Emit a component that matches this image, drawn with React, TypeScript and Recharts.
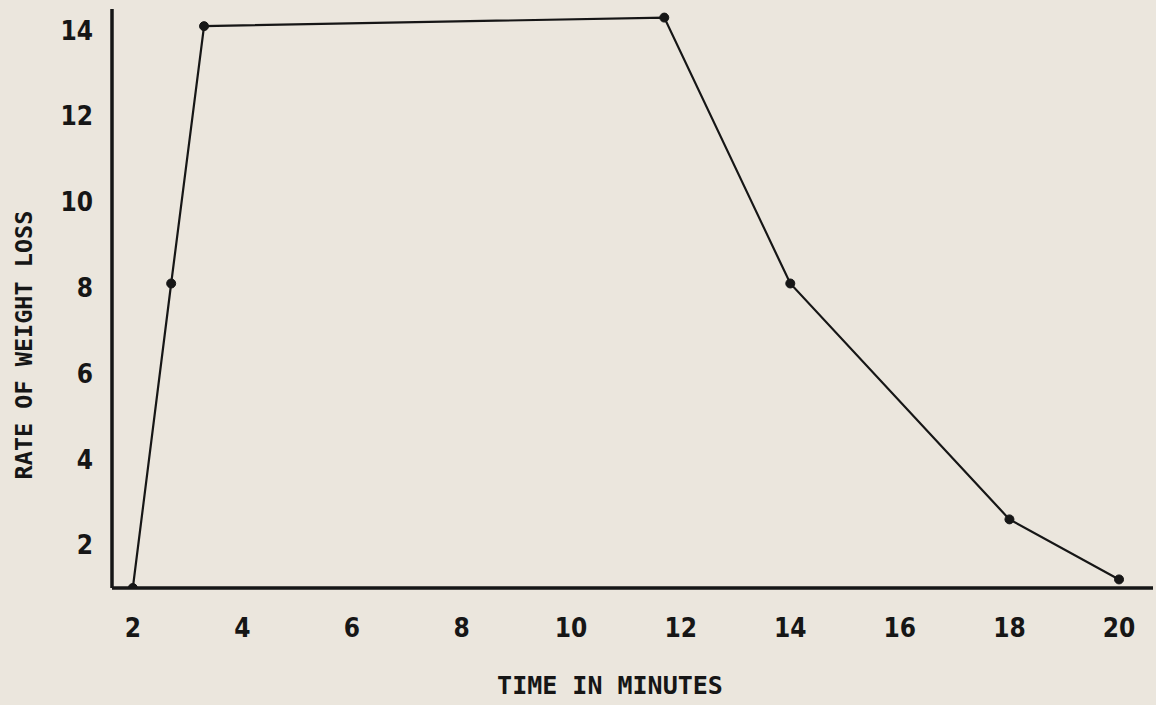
import React from 'react';
import { LineChart, Line, XAxis, YAxis, Label } from 'recharts';

// Time (minutes) of each observation
const times = [2, 2.7, 3.3, 11.7, 14, 18, 20];
// Rate of weight loss at each observation
const rates = [1, 8.1, 14.1, 14.3, 8.1, 2.6, 1.2];
// Axis tick labels
const xTicks = [2, 4, 6, 8, 10, 12, 14, 16, 18, 20];
const yTicks = [2, 4, 6, 8, 10, 12, 14];

const xTitle = 'TIME IN MINUTES';
const yTitle = 'RATE OF WEIGHT LOSS';

const data = times.map((t, i) => ({ time: t, rate: rates[i] }));

const INK = '#161616';
const FONT = "'DejaVu Sans Mono', 'Liberation Mono', monospace";
const DIGIT_FONT = "'Liberation Sans Narrow', 'DejaVu Sans Condensed', sans-serif";

const tickStyle = {
  fill: INK,
  fontSize: 26,
  fontFamily: DIGIT_FONT,
  fontWeight: 700,
};

export default function App() {
  return (
    <div
      style={{
        position: 'absolute',
        left: 0,
        top: 0,
        width: 1156,
        height: 705,
        background: '#ebe6dd',
        overflow: 'hidden',
      }}
    >
      <LineChart
        width={1156}
        height={705}
        data={data}
        margin={{ top: 9, right: 3, bottom: 0, left: 0 }}
      >
        <XAxis
          type="number"
          dataKey="time"
          domain={[1.62, 20.62]}
          ticks={xTicks}
          allowDataOverflow
          height={117}
          tickLine={false}
          tickSize={0}
          tickMargin={31}
          axisLine={{ stroke: INK, strokeWidth: 3.5 }}
          tick={tickStyle}
        >
          <Label
            content={() => (
              <text
                x={610}
                y={694}
                textAnchor="middle"
                fill={INK}
                fontSize={25}
                fontFamily={FONT}
                fontWeight={700}
              >
                {xTitle}
              </text>
            )}
          />
        </XAxis>
        <YAxis
          type="number"
          domain={[1, 14.5]}
          ticks={yTicks}
          allowDataOverflow
          width={112}
          tickLine={false}
          tickSize={0}
          tickMargin={19}
          axisLine={{ stroke: INK, strokeWidth: 3.5 }}
          tick={tickStyle}
        >
          <Label
            content={() => (
              <text
                x={32}
                y={345}
                transform="rotate(-90 32 345)"
                textAnchor="middle"
                fill={INK}
                fontSize={23.5}
                fontFamily={FONT}
                fontWeight={700}
              >
                {yTitle}
              </text>
            )}
          />
        </YAxis>
        <Line
          type="linear"
          dataKey="rate"
          stroke={INK}
          strokeWidth={2.2}
          dot={{ r: 4.5, fill: INK, stroke: INK, strokeWidth: 1 }}
          activeDot={false}
          isAnimationActive={false}
        />
      </LineChart>
    </div>
  );
}
